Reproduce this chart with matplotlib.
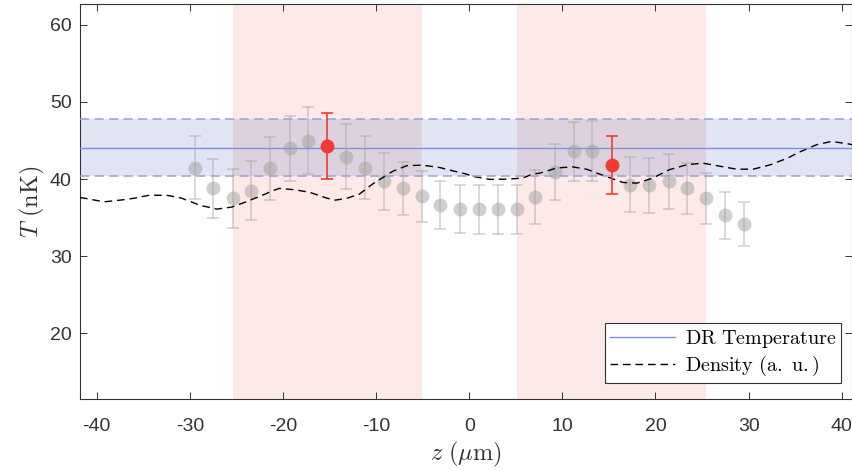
import matplotlib
matplotlib.use("Agg")
import matplotlib.pyplot as plt
import numpy as np

plt.rcParams['font.family'] = ['Liberation Sans', 'DejaVu Sans']
plt.rcParams['mathtext.fontset'] = 'cm'
plt.rcParams['axes.unicode_minus'] = False

# measured temperature per slice along z
z = [-29.5, -27.5, -25.4, -23.4, -21.4, -19.3, -17.3, -15.3, -13.2, -11.2,
     -9.2, -7.1, -5.1, -3.1, -1.0, 1.0, 3.1, 5.1, 7.1, 9.2,
     11.2, 13.2, 15.3, 17.3, 19.3, 21.4, 23.4, 25.4, 27.5, 29.5]
T = [41.5, 38.8, 37.5, 38.5, 41.4, 44.0, 45.0, 44.3, 42.9, 41.5,
     39.7, 38.8, 37.8, 36.7, 36.15, 36.1, 36.1, 36.1, 37.7, 40.9,
     43.6, 43.65, 41.85, 39.3, 39.2, 39.7, 38.8, 37.5, 35.3, 34.2]
T_err = [4.1, 3.85, 3.8, 3.8, 4.05, 4.2, 4.3, 4.3, 4.2, 4.1,
         3.7, 3.45, 3.3, 3.1, 3.1, 3.2, 3.2, 3.2, 3.45, 3.65,
         3.8, 3.9, 3.8, 3.55, 3.6, 3.55, 3.35, 3.25, 3.0, 2.9]
highlight = [7, 22]  # slices at the centre of each beam region

# beam regions along z
regions = [(-25.4, -5.1), (5.1, 25.4)]

# DR temperature and its uncertainty
T_dr = 44.1
T_dr_err = 3.75

# density profile, rescaled onto the temperature axis
z_dens = [-41.8, -39.2, -37.2, -35.9, -34.3, -32.4, -30.9, -28.9, -27.1, -25.5,
          -23.9, -22.3, -21.1, -20.4, -18.7, -17.1, -15.3, -14.4, -13.2, -11.8,
          -10.4, -8.2, -6.7, -5.0, -3.2, -1.6, -0.3, 0.4, 2.2, 4.0,
          5.7, 6.8, 7.6, 9.4, 11.1, 12.6, 14.0, 15.8, 16.5, 18.0,
          19.7, 21.5, 23.4, 25.1, 26.9, 28.7, 30.5, 32.3, 34.1, 35.5,
          37.3, 38.9, 40.9, 41.2]
n_dens = [37.63, 37.06, 37.32, 37.54, 37.93, 37.89, 37.54, 36.60, 36.12, 36.38,
          37.09, 37.87, 38.49, 38.80, 38.62, 38.28, 37.54, 37.28, 37.50, 38.06,
          39.35, 41.03, 41.75, 41.81, 41.51, 41.03, 40.65, 40.35, 39.97, 40.0,
          40.13, 40.65, 40.78, 41.45, 41.59, 41.29, 40.65, 39.87, 39.57, 39.48,
          40.13, 41.23, 41.88, 42.07, 41.68, 41.29, 41.29, 41.85, 42.68, 43.53,
          44.46, 44.89, 44.53, 44.4]

xticks = [-40, -30, -20, -10, 0, 10, 20, 30, 40]
yticks = [20, 30, 40, 50, 60]

fig = plt.figure(figsize=(8.53, 4.70), dpi=100)
ax = fig.add_axes([0.0938, 0.151, 0.905, 0.8405])

for lo, hi in regions:
    ax.axvspan(lo, hi, color='#fde9e7', lw=0, zorder=0)

ax.axhspan(T_dr - T_dr_err, T_dr + T_dr_err, color='#334db3', alpha=0.15, lw=0, zorder=1)

z = np.array(z)
T = np.array(T)
T_err = np.array(T_err)
rest = [i for i in range(len(z)) if i not in highlight]

ax.errorbar(z[rest], T[rest], yerr=T_err[rest], fmt='o', ms=10, color='#a0a0a0',
            mec='none', alpha=0.5, elinewidth=1.1, capsize=4.3, capthick=1.1, zorder=2)

ax.plot(z_dens, n_dens, color='k', lw=1.0, dashes=(5.5, 3.5), zorder=3,
        label=r'$\mathrm{Density\ (a.\ u.)}$')

for yb in (T_dr - T_dr_err, T_dr + T_dr_err):
    ax.axhline(yb, color='#96a0d8', lw=1.1, dashes=(6, 3.5), zorder=3)
ax.axhline(T_dr, color='#8290d8', lw=1.0, zorder=3, label=r'$\mathrm{DR\ Temperature}$')

ax.errorbar(z[highlight], T[highlight], yerr=T_err[highlight], fmt='o', ms=10,
            color='#f03a32', mec='none', elinewidth=1.2, capsize=4.3, capthick=1.2, zorder=4)

ax.set_xlim(-41.8, 41.1)
ax.set_ylim(11.5, 62.7)
ax.set_xticks(xticks)
ax.set_yticks(yticks)
ax.tick_params(direction='in', length=5, width=0.7, top=True, right=True,
               labelsize=14, colors='#333333', pad=14)
ax.tick_params(axis='y', pad=6)
for s in ax.spines.values():
    s.set_color('#333333')
    s.set_linewidth(0.8)

ax.set_xlabel(r'$z\ (\mu\mathrm{m})$', fontsize=17.5, color='#333333', labelpad=3)
ax.set_ylabel(r'$T\ (\mathrm{nK})$', fontsize=17.5, color='#333333', labelpad=2)

handles, labels = ax.get_legend_handles_labels()
leg = ax.legend(handles[::-1], labels[::-1], loc='lower right',
                bbox_to_anchor=(0.986, 0.04), borderaxespad=0, fancybox=False,
                edgecolor='#333333', framealpha=1, fontsize=14.5,
                handlelength=3.2, borderpad=0.25, labelspacing=0.2, handletextpad=0.5)
leg.get_frame().set_linewidth(0.8)

fig.savefig('out.png', dpi=100)
